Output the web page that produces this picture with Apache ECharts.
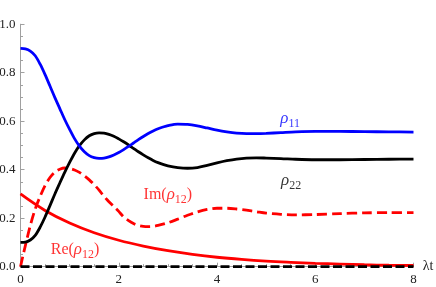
<!DOCTYPE html>
<html>
<head>
<meta charset="utf-8">
<script src="https://cdn.jsdelivr.net/npm/echarts@6/dist/echarts.min.js"></script>
<style>html,body{margin:0;padding:0;background:#fff}#c{width:436px;height:287px}</style>
</head>
<body>
<div id="c"></div>
<script>
// time grid for populations
const tRho = [0,0.1,0.2,0.3,0.4,0.5,0.6,0.7,0.8,0.9,1.0,1.1,1.2,1.3,1.4,1.5,1.6,1.7,1.8,1.9,2.0,2.1,2.2,2.3,2.4,2.5,2.6,2.7,2.8,2.9,3.0,3.2,3.4,3.6,3.8,4.0,4.2,4.4,4.6,4.8,5.0,5.3,5.6,6.0,6.5,7.0,7.5,8.0];
const rho11 = [0.900,0.898,0.889,0.870,0.835,0.792,0.745,0.697,0.652,0.607,0.566,0.528,0.497,0.474,0.458,0.450,0.447,0.448,0.453,0.461,0.471,0.483,0.496,0.510,0.524,0.537,0.549,0.560,0.569,0.576,0.582,0.588,0.587,0.581,0.572,0.563,0.556,0.551,0.549,0.549,0.550,0.553,0.556,0.558,0.558,0.557,0.556,0.555];
const rho22 = [0.100,0.101,0.110,0.129,0.163,0.205,0.252,0.300,0.345,0.389,0.430,0.468,0.499,0.523,0.540,0.549,0.552,0.551,0.546,0.538,0.527,0.515,0.502,0.488,0.474,0.461,0.449,0.438,0.429,0.422,0.416,0.409,0.406,0.409,0.418,0.428,0.437,0.444,0.448,0.449,0.448,0.446,0.443,0.441,0.441,0.442,0.443,0.444];
// coherence real part
const tRe = [0,0.5,1.0,1.5,2.0,2.5,3.0,3.5,4.0,4.5,5.0,5.5,6.0,6.5,7.0,7.5,8.0];
const re12 = [0.300,0.232,0.180,0.140,0.109,0.085,0.066,0.051,0.039,0.030,0.023,0.018,0.014,0.011,0.008,0.006,0.005];
// coherence imaginary part
const tIm = [0,0.05,0.1,0.2,0.3,0.4,0.5,0.6,0.7,0.8,0.9,1.0,1.1,1.2,1.3,1.4,1.5,1.6,1.7,1.8,1.9,2.0,2.1,2.2,2.3,2.4,2.5,2.6,2.7,2.8,3.0,3.2,3.4,3.6,3.8,4.0,4.2,4.4,4.6,4.8,5.0,5.3,5.6,6.0,6.5,7.0,7.5,8.0];
const im12 = [0.000,0.045,0.088,0.170,0.238,0.290,0.335,0.368,0.390,0.402,0.407,0.405,0.399,0.389,0.375,0.358,0.338,0.316,0.290,0.268,0.248,0.228,0.205,0.190,0.178,0.170,0.166,0.165,0.166,0.170,0.181,0.196,0.212,0.226,0.236,0.241,0.241,0.238,0.233,0.227,0.221,0.216,0.214,0.215,0.219,0.222,0.223,0.223];
// zero line
const tZero = [0,8];
const zero = [0,0];
// axis ticks
const xTicks = [0,2,4,6,8];
const yTicks = [0.0,0.2,0.4,0.6,0.8,1.0];

const serif = "'Liberation Serif', 'DejaVu Serif', serif";
const zip = (a,b) => a.map((v,i)=>[v,b[i]]);

function rich(color){
  return {
    n:{fontFamily:serif,fontSize:16,color:color,lineHeight:20,verticalAlign:'bottom'},
    i:{fontFamily:serif,fontSize:17,fontStyle:'italic',color:color,lineHeight:20,verticalAlign:'bottom'},
    s:{fontFamily:serif,fontSize:12,color:color,lineHeight:20,verticalAlign:'bottom',padding:[0,0,-3,0]}
  };
}
function labelSeries(name, pt, text, color){
  return {
    type:'scatter', name:name, symbolSize:0, silent:true, z:10,
    data:[pt],
    label:{show:true, position:'inside', formatter:text, rich:rich(color)}
  };
}

const chart = echarts.init(document.getElementById('c'), null, {renderer:'canvas'});
const axisGray = '#a0a0a0';
chart.setOption({
  animation:false,
  grid:{left:20.5, right:22.5, top:24.2, bottom:20.3, containLabel:false, outerBoundsMode:'none'},
  xAxis:{
    type:'value', min:xTicks[0], max:xTicks[xTicks.length-1], interval:2,
    name:'λt', nameLocation:'end', nameGap:7,
    nameTextStyle:{fontFamily:serif,fontSize:14,color:'#222',verticalAlign:'middle'},
    axisLine:{show:true,onZero:false,lineStyle:{color:axisGray,width:1}},
    axisTick:{show:true,inside:true,length:4,lineStyle:{color:axisGray}},
    minorTick:{show:true,splitNumber:4,length:2.5,lineStyle:{color:axisGray}},
    splitLine:{show:false},
    axisLabel:{fontFamily:serif,fontSize:13,color:'#222',margin:6,formatter:v=>String(v)}
  },
  yAxis:{
    type:'value', min:yTicks[0], max:yTicks[yTicks.length-1], interval:0.2,
    axisLine:{show:true,onZero:false,lineStyle:{color:axisGray,width:1}},
    axisTick:{show:true,inside:true,length:4,lineStyle:{color:axisGray}},
    minorTick:{show:true,splitNumber:4,length:2.5,lineStyle:{color:axisGray}},
    splitLine:{show:false},
    axisLabel:{fontFamily:serif,fontSize:13,color:'#222',margin:5,formatter:v=>v.toFixed(1)}
  },
  series:[
    {type:'line', name:'Re', data:zip(tRe,re12), smooth:0.4, showSymbol:false, lineStyle:{color:'#ff0000',width:2.8}, z:2},
    {type:'line', name:'Im', data:zip(tIm,im12), smooth:0.3, showSymbol:false, lineStyle:{color:'#ff0000',width:2.8,type:[10,5]}, z:3},
    {type:'line', name:'rho22', data:zip(tRho,rho22), smooth:0.3, showSymbol:false, lineStyle:{color:'#000000',width:2.8}, z:4},
    {type:'line', name:'rho11', data:zip(tRho,rho11), smooth:0.3, showSymbol:false, lineStyle:{color:'#0000ff',width:2.8}, z:5},
    {type:'line', name:'zero', data:zip(tZero,zero), showSymbol:false, lineStyle:{color:'#000000',width:2.8,type:[9,3.5]}, z:6},
    labelSeries('l11',[5.49,0.617],'{i|ρ}{s|11}','#0000ff'),
    labelSeries('l22',[5.51,0.362],'{i|ρ}{s|22}','#000000'),
    labelSeries('lIm',[3.0,0.304],'{n|Im(}{i|ρ}{s|12}{n|)}','#ff0000'),
    labelSeries('lRe',[1.11,0.077],'{n|Re(}{i|ρ}{s|12}{n|)}','#ff0000')
  ]
});
</script>
</body>
</html>
